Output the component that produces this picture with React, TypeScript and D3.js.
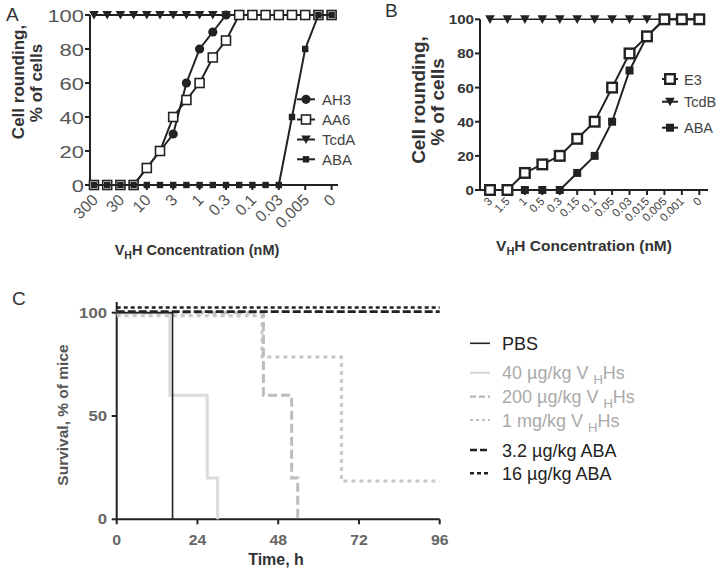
import React from 'react';
import * as d3 from 'd3';

const FONT = "'Liberation Sans', Arial, Helvetica, sans-serif";

// ---------- Panel A data ----------
const tickLabelsA = ["300", "30", "10", "3", "1", "0.3", "0.1", "0.03", "0.005", "0"];
const tickIdxA = [0, 2, 4, 6, 8, 10, 12, 14, 16, 18];
const seriesAH3 = [0, 0, 0, 0, 10, 20, 30, 60, 80, 90, 100, 100, 100, 100, 100, 100, 100, 100, 100];
const seriesAA6 = [0, 0, 0, 0, 10, 20, 40, 50, 60, 75, 85, 100, 100, 100, 100, 100, 100, 100, 100];
const seriesTcdA = [100, 100, 100, 100, 100, 100, 100, 100, 100, 100, 100, 100, 100, 100, 100, 100, 100, 100, 100];
const seriesABA_A = [0, 0, 0, 0, 0, 0, 0, 0, 0, 0, 0, 0, 0, 0, 0, 40, 80, 100, 100];
const yTicksA = [0, 20, 40, 60, 80, 100];

// ---------- Panel B data ----------
const tickLabelsB = ["3", "1.5", "1", "0.5", "0.3", "0.15", "0.1", "0.05", "0.03", "0.015", "0.005", "0.001", "0"];
const seriesE3 = [0, 0, 10, 15, 20, 30, 40, 60, 80, 90, 100, 100, 100];
const seriesTcdB = [100, 100, 100, 100, 100, 100, 100, 100, 100, 100, 100, 100, 100];
const seriesABA_B = [0, 0, 0, 0, 0, 10, 20, 40, 70, 90, 100, 100, 100];
const yTicksB = [0, 20, 40, 60, 80, 100];

// ---------- Panel C data ----------
const pbsT = [0, 16.6];
const pbsV = [100, 0];
const v40T = [0, 15.8, 26.9, 30];
const v40V = [100, 60, 20, 0];
const v200T = [0, 43.6, 52, 53.8];
const v200V = [100, 60, 20, 0];
const v1mgT = [0, 43.2, 66.8, 96];
const v1mgV = [98.5, 78.5, 18.5, 18.5];
const aba32T = [0, 96];
const aba32V = [100.5, 100.5];
const aba16T = [0, 96];
const aba16V = [102.5, 102.5];
const xTicksC = [0, 24, 48, 72, 96];
const yTicksC = [0, 50, 100];

const tri = "M-4.8,-4 L4.8,-4 L0,4.6 Z";

export default function App() {
  // Panel A scales
  const xA = d3.scaleLinear().domain([0, 18]).range([94, 331.6]);
  const yA = d3.scaleLinear().domain([0, 100]).range([185, 15]);
  const lineA = d3.line<number>().x((_, i) => xA(i)).y((d) => yA(d));

  // Panel B scales
  const xB = d3.scaleLinear().domain([0, 12]).range([490, 699.3]);
  const yB = d3.scaleLinear().domain([0, 100]).range([190, 19.3]);
  const lineB = d3.line<number>().x((_, i) => xB(i)).y((d) => yB(d));

  // Panel C scales
  const xC = d3.scaleLinear().domain([0, 96]).range([116.7, 439.7]);
  const yC = d3.scaleLinear().domain([0, 100]).range([519.3, 312.7]);
  const step = (t: number[], v: number[]) =>
    d3.line<number>().curve(d3.curveStepAfter).x((_, i) => xC(t[i])).y((d) => yC(d))(v) || "";

  const dark = "#222";

  return (
    <svg width={720} height={573} style={{ position: 'absolute', left: 0, top: 0, background: '#fff' }} fontFamily={FONT}>
      <rect x={0} y={0} width={720} height={573} fill="#fff" />
      {/* ================= Panel A ================= */}
      <text x={6} y={21} fontSize={19} fill="#333">A</text>
      <g fill="none" stroke={dark} strokeWidth={2}>
        <line x1={90} x2={90} y1={yA(100)} y2={yA(0)} />
        <line x1={90} x2={338} y1={yA(0)} y2={yA(0)} />
        {yTicksA.map((t) => <line key={t} x1={85} x2={90} y1={yA(t)} y2={yA(t)} />)}
        {tickIdxA.map((i) => <line key={i} x1={xA(i)} x2={xA(i)} y1={yA(0)} y2={yA(0) + 5} />)}
      </g>
      {yTicksA.map((t) => (
        <text key={t} x={84} y={yA(t) + 6.5} fontSize={17} fill="#555" textAnchor="end"
          textLength={String(t).length * 12.2} lengthAdjust="spacingAndGlyphs">{t}</text>
      ))}
      {tickIdxA.map((i, k) => (
        <text key={i} transform={`translate(${xA(i) + 5},${yA(0) + 16}) rotate(-45)`} fontSize={16} fill="#555" textAnchor="end">
          {tickLabelsA[k]}
        </text>
      ))}
      <text transform="translate(24,82) rotate(-90)" fontSize={17} fontWeight="bold" fill="#333" textAnchor="middle">Cell rounding,</text>
      <text transform="translate(42,83) rotate(-90)" fontSize={17} fontWeight="bold" fill="#333" textAnchor="middle">% of cells</text>
      <text x={197} y={255} fontSize={14.5} fontWeight="bold" fill="#333" textAnchor="middle">
        V<tspan fontSize={10.5} dy={4}>H</tspan><tspan dy={-4}>H Concentration (nM)</tspan>
      </text>
      {/* series A */}
      <path d={lineA(seriesTcdA) || ""} fill="none" stroke={dark} strokeWidth={2} />
      {seriesTcdA.map((d, i) => <path key={i} d={tri} transform={`translate(${xA(i)},${yA(d)})`} fill={dark} />)}
      <path d={lineA(seriesAH3) || ""} fill="none" stroke={dark} strokeWidth={2} />
      {seriesAH3.map((d, i) => <circle key={i} cx={xA(i)} cy={yA(d)} r={4.6} fill={dark} />)}
      <path d={lineA(seriesAA6) || ""} fill="none" stroke={dark} strokeWidth={2} />
      {seriesAA6.map((d, i) => <rect key={i} x={xA(i) - 4.5} y={yA(d) - 4.5} width={9} height={9} fill="#fff" stroke={dark} strokeWidth={1.6} />)}
      <path d={lineA(seriesABA_A) || ""} fill="none" stroke={dark} strokeWidth={2} />
      {seriesABA_A.map((d, i) => <rect key={i} x={xA(i) - 3.2} y={yA(d) - 3.2} width={6.4} height={6.4} fill={dark} />)}
      {/* legend A */}
      {[
        { y: 99.3, label: "AH3", m: "circle" },
        { y: 119.5, label: "AA6", m: "open" },
        { y: 139.5, label: "TcdA", m: "tri" },
        { y: 159.3, label: "ABA", m: "sq" },
      ].map((e) => (
        <g key={e.label}>
          <line x1={297} x2={315} y1={e.y} y2={e.y} stroke={dark} strokeWidth={2} />
          {e.m === "circle" && <circle cx={306} cy={e.y} r={4.6} fill={dark} />}
          {e.m === "open" && <rect x={301.5} y={e.y - 4.5} width={9} height={9} fill="#fff" stroke={dark} strokeWidth={1.6} />}
          {e.m === "tri" && <path d={tri} transform={`translate(306,${e.y})`} fill={dark} />}
          {e.m === "sq" && <rect x={302.8} y={e.y - 3.2} width={6.4} height={6.4} fill={dark} />}
          <text x={322} y={e.y + 5.5} fontSize={15} fill="#444">{e.label}</text>
        </g>
      ))}

      {/* ================= Panel B ================= */}
      <text x={385} y={17} fontSize={19} fill="#333">B</text>
      <g fill="none" stroke={dark} strokeWidth={2}>
        <line x1={480} x2={480} y1={yB(100)} y2={yB(0)} />
        <line x1={480} x2={708} y1={yB(0)} y2={yB(0)} />
        {yTicksB.map((t) => <line key={t} x1={475} x2={480} y1={yB(t)} y2={yB(t)} />)}
        {tickLabelsB.map((_, i) => <line key={i} x1={xB(i)} x2={xB(i)} y1={yB(0)} y2={yB(0) + 5} />)}
      </g>
      {yTicksB.map((t) => (
        <text key={t} x={474} y={yB(t) + 5} fontSize={13.5} fontWeight="bold" fill="#333" textAnchor="end"
          textLength={String(t).length * 8.4} lengthAdjust="spacingAndGlyphs">{t}</text>
      ))}
      {tickLabelsB.map((l, i) => (
        <text key={i} transform={`translate(${xB(i) + 3},${yB(0) + 12}) rotate(-45)`} fontSize={11.5} fill="#444" textAnchor="end">{l}</text>
      ))}
      <text transform="translate(425,100) rotate(-90)" fontSize={19} fontWeight="bold" fill="#333" textAnchor="middle">Cell rounding,</text>
      <text transform="translate(444,102) rotate(-90)" fontSize={19} fontWeight="bold" fill="#333" textAnchor="middle">% of cells</text>
      <text x={584} y={251} fontSize={15.5} fontWeight="bold" fill="#333" textAnchor="middle">
        V<tspan fontSize={11} dy={4}>H</tspan><tspan dy={-4}>H Concentration (nM)</tspan>
      </text>
      <path d={lineB(seriesTcdB) || ""} fill="none" stroke={dark} strokeWidth={1.5} />
      {seriesTcdB.map((d, i) => <path key={i} d={tri} transform={`translate(${xB(i)},${yB(d)})`} fill={dark} />)}
      <path d={lineB(seriesABA_B) || ""} fill="none" stroke={dark} strokeWidth={2} />
      {seriesABA_B.map((d, i) => <rect key={i} x={xB(i) - 4} y={yB(d) - 4} width={8} height={8} fill={dark} />)}
      <path d={lineB(seriesE3) || ""} fill="none" stroke={dark} strokeWidth={2} />
      {seriesE3.map((d, i) => <rect key={i} x={xB(i) - 4.8} y={yB(d) - 4.8} width={9.6} height={9.6} fill="#fff" stroke={dark} strokeWidth={2.4} />)}
      {/* legend B */}
      {[
        { y: 79, label: "E3", m: "open" },
        { y: 101.7, label: "TcdB", m: "tri" },
        { y: 127.7, label: "ABA", m: "sq" },
      ].map((e) => (
        <g key={e.label}>
          <line x1={662} x2={678} y1={e.y} y2={e.y} stroke={dark} strokeWidth={2} />
          {e.m === "open" && <rect x={665.2} y={e.y - 4.8} width={9.6} height={9.6} fill="#fff" stroke={dark} strokeWidth={2.4} />}
          {e.m === "tri" && <path d={tri} transform={`translate(670,${e.y})`} fill={dark} />}
          {e.m === "sq" && <rect x={666} y={e.y - 4} width={8} height={8} fill={dark} />}
          <text x={684} y={e.y + 5.5} fontSize={14.5} fill="#444">{e.label}</text>
        </g>
      ))}

      {/* ================= Panel C ================= */}
      <text x={12} y={305} fontSize={19} fill="#333">C</text>
      <g fill="none" stroke={dark} strokeWidth={2}>
        <line x1={xC(0)} x2={xC(0)} y1={302} y2={yC(0)} />
        <line x1={xC(0)} x2={xC(96)} y1={yC(0)} y2={yC(0)} />
        {yTicksC.map((t) => <line key={t} x1={xC(0) - 5} x2={xC(0)} y1={yC(t)} y2={yC(t)} />)}
        {xTicksC.map((t) => <line key={t} x1={xC(t)} x2={xC(t)} y1={yC(0)} y2={yC(0) + 5} />)}
      </g>
      {yTicksC.map((t) => (
        <text key={t} x={107} y={yC(t) + 5} fontSize={14.5} fontWeight="bold" fill="#666" textAnchor="end"
          textLength={String(t).length * 9.3} lengthAdjust="spacingAndGlyphs">{t}</text>
      ))}
      {xTicksC.map((t) => (
        <text key={t} x={xC(t)} y={545} fontSize={14.5} fontWeight="bold" fill="#666" textAnchor="middle"
          textLength={String(t).length * 8.8} lengthAdjust="spacingAndGlyphs">{t}</text>
      ))}
      <text transform="translate(68,415) rotate(-90)" fontSize={15.5} fontWeight="bold" fill="#555" textAnchor="middle">Survival, % of mice</text>
      <text x={276} y={565} fontSize={16} fontWeight="bold" fill="#333" textAnchor="middle">Time, h</text>

      <path d={step(v40T, v40V)} fill="none" stroke="#dcdcdc" strokeWidth={3} />
      <path d={step(v1mgT, v1mgV)} fill="none" stroke="#c8c8c8" strokeWidth={3} strokeDasharray="4,4" />
      <path d={step(v200T, v200V)} fill="none" stroke="#bdbdbd" strokeWidth={3} strokeDasharray="9,4" />
      <path d={step(pbsT, pbsV)} fill="none" stroke={dark} strokeWidth={1.6} />
      <path d={step(aba32T, aba32V)} fill="none" stroke={dark} strokeWidth={2.6} strokeDasharray="8,3" />
      <path d={step(aba16T, aba16V)} fill="none" stroke={dark} strokeWidth={2.4} strokeDasharray="4,3" />

      {/* legend C */}
      {[
        { y: 343.3, label: "PBS", stroke: dark, w: 1.6, dash: "", color: "#222", vhh: null as string | null },
        { y: 372.7, label: "", stroke: "#d4d4d4", w: 2, dash: "", color: "#aaa", vhh: "40 µg/kg V " },
        { y: 396.7, label: "", stroke: "#b8b8b8", w: 2.2, dash: "6,3", color: "#aaa", vhh: "200 µg/kg V " },
        { y: 420, label: "", stroke: "#c0c0c0", w: 2.2, dash: "3,3", color: "#aaa", vhh: "1 mg/kg V " },
        { y: 450, label: "3.2 µg/kg ABA", stroke: dark, w: 2.6, dash: "7,3", color: "#222", vhh: null },
        { y: 473.3, label: "16 µg/kg ABA", stroke: dark, w: 2.6, dash: "4,3", color: "#222", vhh: null },
      ].map((e, k) => (
        <g key={k}>
          <line x1={470} x2={490} y1={e.y} y2={e.y} stroke={e.stroke} strokeWidth={e.w} strokeDasharray={e.dash || undefined} />
          <text x={502} y={e.y + 6.5} fontSize={18} fill={e.color}>
            {e.vhh ? (
              <>
                {e.vhh}
                <tspan fontSize={13} dy={5}>H</tspan>
                <tspan dy={-5}>Hs</tspan>
              </>
            ) : e.label}
          </text>
        </g>
      ))}
    </svg>
  );
}
